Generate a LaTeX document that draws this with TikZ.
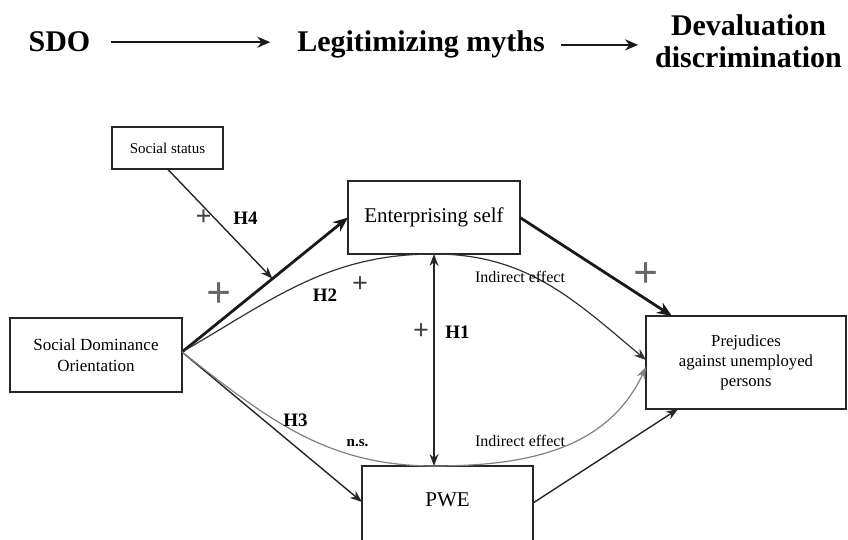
\documentclass[tikz,border=0pt]{standalone}
\usepackage{fontspec}
\setmainfont{Liberation Serif}
\usetikzlibrary{arrows.meta}
\usetikzlibrary{positioning}

\begin{document}
\begin{tikzpicture}[
    x=1pt,y=1pt,
    outer sep=0pt,
    varbox/.style={draw=black!85,line width=1.5pt,rectangle,align=center,inner sep=0pt},
    title/.style={font=\fontsize{30}{32}\selectfont\bfseries,align=center,inner sep=0pt},
    titlearrow/.style={draw=black!90,line width=2.4pt,-{Stealth[length=13pt,width=11pt]}},
    link/.style={draw=black!85,line width=1.4pt,-{Stealth[length=12pt,width=9pt]}},
    boldlink/.style={draw=black!90,line width=2.8pt,-{Stealth[length=15pt,width=12pt]}},
    curve/.style={draw=black!80,line width=1.2pt,-{Stealth[length=12pt,width=9pt]}},
    hyp/.style={font=\fontsize{19}{19}\selectfont\bfseries,inner sep=0pt},
    nsfont/.style={font=\fontsize{15}{15}\selectfont\bfseries,inner sep=0pt},
    plussm/.style={font=\fontsize{28}{28}\selectfont\bfseries,text=black!75,inner sep=0pt},
    plusbig/.style={font=\fontsize{44}{44}\selectfont\bfseries,text=black!60,inner sep=0pt},
    effect/.style={font=\fontsize{16}{16}\selectfont,inner sep=0pt},
    ]
    \clip (0,0) rectangle (848,540);

    % header line
    \node (sdot)  [title,anchor=base] at (59.5,488)  {SDO};
    \node (myths) [title,anchor=base] at (421,488)   {Legitimizing myths};
    \node (devt)  [title]             at (748.5,499) {Devaluation\\discrimination};
    \draw [titlearrow] ([xshift=21pt]sdot.east) -- ([xshift=-27pt]sdot.east -| myths.west);
    \draw [titlearrow] ([xshift=16pt]myths.east) -- ([xshift=-17pt]myths.east -| devt.west);

    % variables
    \node (status) [varbox,minimum width=111pt,minimum height=42pt,font=\fontsize{15}{18}\selectfont] at (167.5,392) {Social status};
    \node (ent)    [varbox,minimum width=172pt,minimum height=73pt,font=\fontsize{21}{25}\selectfont] at (434,322.5) {Enterprising self};
    \node (sdo)    [varbox,minimum width=172pt,minimum height=74pt,font=\fontsize{17}{21}\selectfont] at (96,185) {Social Dominance\\Orientation};
    \node (prej)   [varbox,minimum width=200pt,minimum height=93pt,font=\fontsize{16.7}{20}\selectfont] at (746,177.5) {Prejudices\\against unemployed\\persons};
    \node (pwe)    [varbox,minimum width=171pt,minimum height=82pt,text depth=14pt,font=\fontsize{21}{25}\selectfont] at (447.5,33) {PWE};

    % paths
    \coordinate (src) at ([yshift=3pt]sdo.east);
    \draw [boldlink] (src) -- coordinate[pos=0.545] (moder) (ent.west);
    \draw [link]     (status.south) -- (moder);
    \draw [boldlink] (ent.east) -- ([xshift=26pt]prej.north west);
    \draw [link]     (src) -- ([yshift=5pt]pwe.west);
    \draw [link]     ([yshift=4pt]pwe.east) -- ([xshift=32pt]prej.south west);
    \draw [link,{Stealth[length=12pt,width=9pt]}-{Stealth[length=12pt,width=9pt]}] (ent.south) -- (ent.south |- pwe.north);

    % indirect effects
    \draw [curve] (src) to[out=30,in=180] (ent.south) to[out=0,in=140] ([yshift=2.5pt]prej.west);
    \draw [curve,draw=black!50] (src) to[out=-38,in=180] (ent.south |- pwe.north) to[out=0,in=-115] ([yshift=-4.5pt]prej.west);

    % labels
    \node (plH4)  [plussm]  at (203.5,322) {+};
    \node (H4)    [hyp]     at (245.5,322) {H4};
    \node (plSE)  [plusbig] at (219,245)   {+};
    \node (H2)    [hyp]     at (325,245)   {H2};
    \node (plH2)  [plussm]  at (360,255)   {+};
    \node (ind1)  [effect]  at (520,263.5) {Indirect effect};
    \node (plEP)  [plusbig] at (646.5,265) {+};
    \node (plH1)  [plussm]  at (421,208)   {+};
    \node (H1)    [hyp]     at (457.5,208) {H1};
    \node (H3)    [hyp]     at (295.5,119.5) {H3};
    \node (ns)    [nsfont]  at (357.5,97)  {n.s.};
    \node (ind2)  [effect]  at (520,99)    {Indirect effect};
\end{tikzpicture}
\end{document}
